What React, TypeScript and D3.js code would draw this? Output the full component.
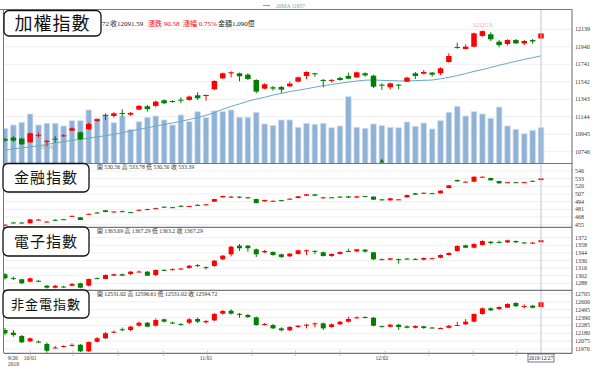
import React, { FC } from 'react';
import * as d3 from 'd3';

type OHLC = [number, number, number, number]; // open, high, low, close

// 加權指數 daily candles, 2019/09/26 .. 2019/12/27
const taiex: OHLC[] = [
  [10891, 10905, 10860, 10872], [10906, 10925, 10857, 10872], [10895, 10906, 10823, 10830],
  [10853, 10963, 10849, 10956], [10932, 10963, 10910, 10938], [10865, 10880, 10804, 10870],
  [10895, 10925, 10849, 10887], [10925, 10944, 10917, 10932], [10986, 11024, 10978, 11012],
  [10967, 10975, 10880, 10887], [11001, 11077, 10994, 11062], [11096, 11122, 11085, 11115],
  [11165, 11183, 11107, 11161], [11153, 11194, 11134, 11183], [11187, 11229, 11145, 11180],
  [11168, 11198, 11153, 11187], [11225, 11278, 11217, 11267], [11263, 11278, 11202, 11232],
  [11267, 11327, 11251, 11316], [11331, 11342, 11289, 11297], [11323, 11331, 11304, 11316],
  [11338, 11365, 11297, 11331], [11335, 11384, 11327, 11373], [11388, 11422, 11335, 11354],
  [11380, 11395, 11327, 11392], [11456, 11558, 11448, 11551], [11581, 11646, 11574, 11638],
  [11638, 11661, 11593, 11650], [11638, 11646, 11547, 11604], [11623, 11638, 11562, 11574],
  [11562, 11570, 11411, 11430], [11464, 11524, 11456, 11513], [11479, 11494, 11441, 11464],
  [11483, 11494, 11411, 11452], [11490, 11543, 11483, 11521], [11543, 11600, 11536, 11593],
  [11608, 11660, 11574, 11653], [11638, 11645, 11600, 11634], [11563, 11574, 11479, 11559],
  [11559, 11570, 11532, 11563], [11585, 11600, 11555, 11562], [11608, 11646, 11570, 11577],
  [11593, 11657, 11585, 11649], [11638, 11650, 11600, 11615], [11611, 11623, 11471, 11486],
  [11509, 11524, 11448, 11505], [11479, 11532, 11456, 11524], [11509, 11516, 11456, 11505],
  [11543, 11600, 11540, 11589], [11638, 11653, 11574, 11608], [11634, 11676, 11625, 11653],
  [11646, 11653, 11600, 11623], [11638, 11707, 11619, 11695], [11767, 11866, 11759, 11835],
  [11937, 11987, 11919, 11933], [11915, 11968, 11911, 11941], [11941, 12101, 11934, 12093],
  [12063, 12125.9, 12055, 12118], [12082, 12105, 12006, 12025], [11998, 12017, 11934, 11960],
  [11972, 12025, 11956, 12017], [12017, 12028, 11970, 11979], [11979, 12017, 11960, 12006],
  [12017, 12028, 11975, 12001.01], [12035.43, 12096.27, 12028.72, 12091.59],
];

const taiexMA20: number[] = [
  10765, 10778, 10790, 10800, 10814, 10828, 10845, 10860, 10875, 10888,
  10900, 10915, 10928, 10943, 10962, 10982, 11000, 11018, 11038, 11055,
  11073, 11092, 11112, 11135, 11160, 11190, 11230, 11262, 11290, 11320,
  11345, 11365, 11390, 11410, 11430, 11446, 11462, 11480, 11497, 11511,
  11525, 11538, 11550, 11560, 11562, 11558, 11555, 11552, 11552, 11555,
  11558, 11562, 11575, 11592, 11612, 11635, 11660, 11680, 11705, 11730,
  11752, 11775, 11797, 11815, 11837,
];

// 成交金額 (億)
const taiexAmount: number[] = [
  1072, 1172, 1255, 1507, 1172, 1224, 1224, 1142, 1303, 1303,
  1629, 1376, 1477, 1242, 1446, 1041, 1273, 1407, 1446, 1325,
  1172, 1477, 1273, 1577, 1395, 1599, 1577, 1629, 1407, 1407,
  1559, 1203, 1163, 1325, 1325, 1102, 1224, 1194, 1224, 1090,
  1142, 2034, 1102, 1072, 1203, 1151, 1102, 1090, 1264, 1133,
  1233, 1051, 1303, 1559, 1742, 1446, 1577, 1507, 1376, 1720,
  1142, 1041, 907, 1011, 1090,
];

const finance: OHLC[] = [
  [454.3, 455.6, 453.8, 455.0], [458.8, 459.8, 457.5, 458.2], [458.6, 459.5, 457.3, 458.0],
  [457.4, 464.6, 457.0, 464.1], [463.2, 464.6, 462.5, 463.7], [459.8, 461.0, 459.2, 460.3],
  [463.3, 464.5, 461.5, 462.8], [464.3, 464.8, 463.4, 463.9], [469.4, 470.6, 468.9, 470.0],
  [467.5, 468.0, 462.6, 463.0], [472.8, 474.0, 472.3, 473.4], [475.6, 476.8, 474.0, 475.1],
  [479.4, 480.0, 476.0, 476.5], [476.8, 477.8, 476.2, 477.3], [477.9, 479.0, 476.3, 477.4],
  [476.3, 476.8, 475.2, 475.8], [479.6, 480.8, 479.0, 480.2], [480.8, 482.0, 480.2, 481.4],
  [482.5, 483.6, 482.0, 483.1], [485.5, 486.0, 483.4, 483.8], [484.7, 485.2, 483.6, 484.2],
  [487.0, 488.2, 485.5, 486.5], [486.0, 487.2, 485.6, 486.6], [488.6, 489.8, 487.2, 488.2],
  [487.9, 490.0, 487.4, 489.5], [494.0, 499.0, 493.5, 498.5], [501.4, 504.1, 501.0, 503.6],
  [502.0, 503.2, 500.4, 502.6], [502.5, 503.0, 499.8, 501.0], [501.4, 501.9, 499.2, 499.7],
  [498.5, 499.0, 491.2, 491.7], [494.6, 497.4, 494.1, 496.9], [494.8, 496.0, 494.3, 495.5],
  [496.6, 497.1, 494.7, 495.2], [498.0, 499.6, 497.5, 499.1], [500.2, 503.5, 499.7, 503.0],
  [504.1, 506.9, 503.6, 506.4], [506.4, 506.9, 503.6, 504.1], [501.0, 502.0, 499.2, 501.4],
  [501.4, 501.9, 500.5, 501.0], [502.6, 503.1, 500.4, 500.9], [503.0, 503.5, 500.4, 500.9],
  [500.9, 503.5, 500.4, 503.0], [503.5, 504.0, 502.1, 502.6], [502.6, 503.1, 496.9, 497.4],
  [498.0, 498.5, 495.8, 497.7], [496.3, 500.2, 495.8, 499.7], [497.7, 498.5, 497.2, 498.0],
  [501.4, 505.8, 500.9, 505.3], [508.2, 508.7, 505.4, 505.9], [508.5, 509.6, 508.0, 509.1],
  [508.5, 509.0, 507.3, 507.8], [508.3, 513.2, 507.8, 512.7], [517.1, 522.2, 516.6, 521.7],
  [530.7, 531.5, 527.9, 528.4], [527.3, 528.4, 526.8, 527.9], [527.9, 536.8, 527.4, 536.3],
  [535.7, 536.8, 535.2, 536.3], [534.1, 534.6, 529.7, 530.2], [529.0, 529.5, 524.6, 525.1],
  [526.4, 527.5, 525.9, 527.0], [527.0, 527.5, 525.9, 526.4], [526.6, 527.6, 526.1, 527.1],
  [529.4, 530.0, 528.6, 529.0], [530.56, 533.78, 530.56, 533.39],
];

const electronics: OHLC[] = [
  [1304.6, 1307, 1295, 1297.2], [1297.6, 1300.5, 1294, 1296.8], [1295.4, 1296, 1286.7, 1288],
  [1291, 1298.7, 1289.5, 1297.2], [1292.6, 1294, 1290.4, 1292.2], [1283.6, 1285, 1278.4, 1279.9],
  [1279.9, 1285, 1278.8, 1283.6], [1282, 1283.5, 1280, 1281.5], [1283.6, 1288.5, 1282.5, 1286.7],
  [1288, 1289, 1278.8, 1279.9], [1283.6, 1296.8, 1282.2, 1295.9], [1297.4, 1298.7, 1295.9, 1296.9],
  [1296, 1304.6, 1295.5, 1303.3], [1302, 1306, 1301.5, 1304.6], [1304.6, 1306, 1301.5, 1302],
  [1305.2, 1310.7, 1303.3, 1309.4], [1309.1, 1311.6, 1308.8, 1309.6], [1309.4, 1310.7, 1301.5, 1302],
  [1303.3, 1313.8, 1301.3, 1312.5], [1312.7, 1313.8, 1310.7, 1312.2], [1313.5, 1315.2, 1312, 1314],
  [1314.6, 1316.2, 1313.4, 1315.1], [1316.2, 1321.7, 1315, 1320.4], [1321.5, 1323.3, 1318, 1321.1],
  [1317.8, 1319, 1313.2, 1317.4], [1319.9, 1330.9, 1318.6, 1329.6], [1332.2, 1340.1, 1330.9, 1338.9],
  [1341.4, 1356.7, 1337.5, 1355.4], [1357.3, 1360.4, 1347.5, 1352.5], [1357.3, 1358.6, 1346.2, 1352.5],
  [1350.6, 1352.1, 1336.4, 1341.4], [1345.1, 1349.3, 1343.8, 1347.5], [1345.7, 1346.6, 1338.8, 1340.1],
  [1341.4, 1342.6, 1334.6, 1336.5], [1337.7, 1343.8, 1336.4, 1342.6], [1342, 1349.9, 1340.8, 1348.8],
  [1348.5, 1350.2, 1340.1, 1348.8], [1347.8, 1348.8, 1341.6, 1347.3], [1345.1, 1346.3, 1337.4, 1338.3],
  [1338.3, 1343.1, 1336.8, 1342], [1342, 1346.6, 1341.1, 1345.7], [1347.5, 1351.7, 1345.7, 1347],
  [1347, 1351.2, 1345.2, 1350.6], [1350, 1351.2, 1344.5, 1346.4], [1345.1, 1345.7, 1330.9, 1332.2],
  [1332, 1333.7, 1330.9, 1332.4], [1331.5, 1334.6, 1330.3, 1334], [1332.6, 1333.7, 1324.2, 1332.2],
  [1333.5, 1334.6, 1331.9, 1333], [1333, 1334, 1330.9, 1332.5], [1331.5, 1335.5, 1330.3, 1334.6],
  [1333.8, 1335.2, 1332.8, 1334.2], [1335.2, 1341.1, 1334, 1340.1], [1340.1, 1345.1, 1339.2, 1343.8],
  [1347.5, 1358, 1346.2, 1356.7], [1358, 1359.1, 1352.5, 1353.6], [1353.6, 1361.8, 1352.5, 1360.4],
  [1358.6, 1367.2, 1357.7, 1365.9], [1364.6, 1365.9, 1359.7, 1362.2], [1364.3, 1366.8, 1361.3, 1364],
  [1363.5, 1368.3, 1362.2, 1367.2], [1366, 1366.8, 1362.2, 1363.5], [1363.2, 1364.1, 1361.3, 1362.8],
  [1362.3, 1363.6, 1360.4, 1362.9], [1363.69, 1367.29, 1363.2, 1367.29],
];

const nonFinElec: OHLC[] = [
  [12224, 12250, 12157, 12180], [12188, 12224, 12134, 12157], [12144, 12157, 12050, 12059],
  [12073, 12123, 12063, 12113], [12070, 12083, 12050, 12065], [12037, 12057, 11920, 11947],
  [11985, 12010, 11976, 11990], [12000, 12019, 11990, 12010], [12015, 12046, 12003, 12025],
  [12027, 12037, 11930, 11939], [11939, 12070, 11930, 12063], [12067, 12130, 12057, 12113],
  [12113, 12197, 12103, 12180], [12196, 12217, 12184, 12201], [12233, 12257, 12210, 12228],
  [12224, 12277, 12210, 12268], [12281, 12337, 12270, 12321], [12321, 12331, 12264, 12268],
  [12281, 12377, 12270, 12357], [12367, 12377, 12324, 12335], [12324, 12337, 12304, 12319],
  [12303, 12317, 12284, 12298], [12321, 12384, 12304, 12367], [12371, 12391, 12317, 12335],
  [12327, 12357, 12311, 12344], [12353, 12451, 12344, 12438], [12442, 12491, 12431, 12478],
  [12482, 12500, 12431, 12442], [12440, 12451, 12388, 12434], [12424, 12438, 12384, 12397],
  [12393, 12404, 12281, 12290], [12296, 12317, 12284, 12304], [12290, 12304, 12237, 12246],
  [12246, 12260, 12206, 12220], [12220, 12277, 12210, 12264], [12264, 12290, 12254, 12281],
  [12290, 12304, 12246, 12295], [12308, 12324, 12260, 12313], [12313, 12324, 12224, 12246],
  [12264, 12311, 12254, 12300], [12300, 12344, 12290, 12335], [12335, 12401, 12324, 12371],
  [12384, 12404, 12377, 12393], [12397, 12407, 12380, 12389], [12388, 12397, 12273, 12281],
  [12275, 12284, 12260, 12271], [12268, 12304, 12257, 12295], [12295, 12304, 12224, 12264],
  [12273, 12284, 12246, 12254], [12254, 12286, 12246, 12277], [12273, 12281, 12241, 12250],
  [12257, 12264, 12244, 12254], [12244, 12257, 12237, 12250], [12254, 12290, 12246, 12281],
  [12283, 12335, 12281, 12290], [12300, 12371, 12290, 12335], [12335, 12444, 12327, 12438],
  [12438, 12525, 12431, 12514], [12514, 12525, 12478, 12487], [12504, 12541, 12495, 12531],
  [12522, 12581, 12518, 12571], [12585, 12594, 12531, 12541], [12538, 12567, 12514, 12544],
  [12549, 12558, 12514, 12522], [12531.02, 12596.61, 12531.02, 12594.72],
];

const taiexTicks = [12139, 11940, 11741, 11542, 11343, 11144, 10945, 10746];
const financeTicks = [546, 533, 520, 507, 494, 481, 468, 455];
const electronicsTicks = [1372, 1358, 1344, 1330, 1316, 1302, 1288];
const nonFinElecTicks = [12705, 12600, 12495, 12390, 12285, 12180, 12075, 11970];

const dateLabels = ['9/26', '10/01', '11/01', '12/02'];
const dateLabelIdx = [0, 3, 24, 45];
const dateTickIdx = [3, 8.1, 13.5, 18.9, 24.2, 29.5, 34.7, 40, 45.4, 50.6, 55.9, 61.1];
const lastDate = '2019/12/27';

const UP = '#ff0000';
const DOWN = '#008000';
const W = 600;
const H = 367;
const plotLeft = 4;
const plotRight = 572;
const numFont = '"Liberation Serif", "Noto Sans CJK TC", serif';
const cjkFont = '"Noto Sans CJK TC", sans-serif';

const x = d3.scaleLinear().domain([0, taiex.length - 1]).range([5, 541]);

type Panel = { top: number; bottom: number; y: d3.ScaleLinear<number, number> };

const mainPanel: Panel = {
  top: 9.5, bottom: 163.5,
  y: d3.scaleLinear().domain([10746, 12139]).range([151.7, 29.3]),
};
const finPanel: Panel = {
  top: 163.5, bottom: 227.3,
  y: d3.scaleLinear().domain([455, 546]).range([224.7, 171]),
};
const elecPanel: Panel = {
  top: 227.3, bottom: 290.3,
  y: d3.scaleLinear().domain([1288, 1372]).range([283.3, 237.7]),
};
const nfePanel: Panel = {
  top: 290.3, bottom: 353.3,
  y: d3.scaleLinear().domain([11970, 12705]).range([349, 294]),
};

const volY = d3.scaleLinear().domain([0, 2100]).range([163.5, 94.5]);

const Candles: FC<{ data: OHLC[]; panel: Panel; bw: number }> = ({ data, panel, bw }) => (
  <g>
    {data.map(([o, h, l, c], i) => {
      const col = c >= o ? UP : DOWN;
      const cx = x(i);
      const yTop = panel.y(Math.max(o, c));
      const yBot = panel.y(Math.min(o, c));
      return (
        <g key={i}>
          <line x1={cx} x2={cx} y1={panel.y(h)} y2={panel.y(l)} stroke={col} strokeWidth={1} />
          <rect x={cx - bw / 2} y={yTop} width={bw} height={Math.max(1, yBot - yTop)} fill={col} />
        </g>
      );
    })}
  </g>
);

const Grid: FC<{ ticks: number[]; panel: Panel }> = ({ ticks, panel }) => (
  <g>
    {ticks.map((t) => (
      <g key={t}>
        <line x1={plotLeft} x2={plotRight} y1={panel.y(t)} y2={panel.y(t)} stroke="#efefef" />
        <text x={plotRight + 3} y={panel.y(t) + 2} fontSize={6} fill="#333" fontFamily={numFont}>
          {t}
        </text>
      </g>
    ))}
  </g>
);

const LabelBox: FC<{ x0: number; y0: number; w: number; h: number; text: string; size: number }> = ({
  x0, y0, w, h, text, size,
}) => (
  <g>
    <rect x={x0} y={y0} width={w} height={h} rx={5} fill="#fff" stroke="#111" strokeWidth={1.3} />
    <text
      x={x0 + w / 2}
      y={y0 + h / 2 + size * 0.36}
      textAnchor="middle"
      fontSize={size}
      fontFamily={cjkFont}
      fill="#111"
      letterSpacing={1}
    >
      {text}
    </text>
  </g>
);

const ohlcText = (d: OHLC) => `開 ${d[0]}  高 ${d[1]}  低 ${d[2]}  收 ${d[3]}`;

const App: FC = () => {
  const panels = [mainPanel, finPanel, elecPanel, nfePanel];
  const last = taiex[taiex.length - 1];
  const prevClose = taiex[taiex.length - 2][3];
  const chg = last[3] - prevClose;
  const amount = taiexAmount[taiexAmount.length - 1];
  const maLine = d3
    .line<number>()
    .x((_, i) => x(i))
    .y((v) => mainPanel.y(v));
  const hiIdx = d3.maxIndex(taiex, (d) => d[1]);
  const loIdx = d3.minIndex(taiex, (d) => d[2]);
  // only the tail of the low value peeks out from behind the label box
  const lowTail = last[2].toFixed(2).slice(-2);

  return (
    <svg width={W} height={H} style={{ position: 'absolute', left: 0, top: 0, background: '#fff' }}>
      <defs>
        {panels.map((p, k) => (
          <clipPath id={`clip${k}`} key={k}>
            <rect x={plotLeft} y={p.top} width={plotRight - plotLeft} height={p.bottom - p.top} />
          </clipPath>
        ))}
      </defs>
      <rect x={0} y={0} width={W} height={H} fill="#fff" />

      {/* grids + right axis labels */}
      <Grid ticks={taiexTicks} panel={mainPanel} />
      <Grid ticks={financeTicks} panel={finPanel} />
      <Grid ticks={electronicsTicks} panel={elecPanel} />
      <Grid ticks={nonFinElecTicks} panel={nfePanel} />

      {/* main panel: volume, MA, candles */}
      <g clipPath="url(#clip0)">
        {taiexAmount.map((v, i) => (
          <rect
            key={i}
            x={x(i) - 2.8}
            y={volY(v)}
            width={5.6}
            height={volY(0) - volY(v)}
            fill="#8fb2d6"
            stroke="#d3e0ee"
            strokeWidth={0.8}
          />
        ))}
        <path d={maLine(taiexMA20) || ''} fill="none" stroke="#6aa9bf" strokeWidth={1} />
        <Candles data={taiex} panel={mainPanel} bw={5.5} />
      </g>
      <text x={x(hiIdx)} y={27} textAnchor="middle" fontSize={6} fill="#f4a3a3" fontFamily={numFont}>
        {taiex[hiIdx][1]}
      </text>
      <text x={x(loIdx)} y={149} textAnchor="middle" fontSize={6} fill="#8fb0b8" fontFamily={numFont}>
        {taiex[loIdx][2].toFixed(1)}
      </text>
      <path d={`M${x(45) - 2.2},162.5 L${x(45)},158.5 L${x(45) + 2.2},162.5 Z`} fill={DOWN} />

      <g clipPath="url(#clip1)">
        <Candles data={finance} panel={finPanel} bw={5} />
      </g>
      <g clipPath="url(#clip2)">
        <Candles data={electronics} panel={elecPanel} bw={5} />
      </g>
      <g clipPath="url(#clip3)">
        <Candles data={nonFinElec} panel={nfePanel} bw={5} />
      </g>

      {/* crosshair at last day */}
      <line x1={x(taiex.length - 1)} x2={x(taiex.length - 1)} y1={9.5} y2={353.3} stroke="#b7c7d8" strokeWidth={1} />

      {/* panel frames */}
      <line x1={0} x2={plotRight} y1={9.5} y2={9.5} stroke="#777" />
      <line x1={plotLeft - 0.5} x2={plotLeft - 0.5} y1={9.5} y2={353.3} stroke="#777" />
      <line x1={plotRight} x2={plotRight} y1={9.5} y2={353.3} stroke="#666" />
      {panels.map((p, k) => (
        <line key={k} x1={plotLeft} x2={plotRight} y1={p.bottom} y2={p.bottom} stroke="#777" strokeWidth={1.2} />
      ))}

      {/* date axis */}
      {dateTickIdx.map((t) => (
        <line key={t} x1={x(t)} x2={x(t)} y1={350.5} y2={356} stroke="#aaa" strokeWidth={0.7} />
      ))}
      {dateLabels.map((lab, k) => (
        <text
          key={lab}
          x={k === 0 ? x(dateLabelIdx[k]) + 3 : x(dateLabelIdx[k])}
          y={359.5}
          textAnchor={k === 0 ? 'start' : 'middle'}
          fontSize={5.5}
          fill="#333"
          fontFamily={numFont}
        >
          {lab}
        </text>
      ))}
      <text x={x(0) + 3} y={366} fontSize={5.5} fill="#333" fontFamily={numFont}>
        2019
      </text>
      <rect x={x(taiex.length - 1) - 13} y={354} width={26} height={8} fill="#fff" stroke="#555" strokeWidth={0.8} />
      <text x={x(taiex.length - 1)} y={360.3} textAnchor="middle" fontSize={5.3} fill="#222" fontFamily={numFont}>
        {lastDate}
      </text>

      {/* legend */}
      <line x1={263} x2={270} y1={5.5} y2={5.5} stroke="#6aa9bf" strokeWidth={1} />
      <text x={276} y={7.5} fontSize={5.5} fill="#6aa9bf" fontFamily={numFont}>
        {`20MA ${taiexMA20[taiexMA20.length - 1]}`}
      </text>

      {/* label boxes */}
      <LabelBox x0={4} y0={10.5} w={97} h={25.5} text="加權指數" size={18} />
      <LabelBox x0={3} y0={163.5} w={86} h={28.5} text="金融指數" size={15} />
      <LabelBox x0={3} y0={227} w={86} h={29} text="電子指數" size={15} />
      <LabelBox x0={3} y0={290} w={86} h={28} text="非金電指數" size={13} />

      {/* main header */}
      <text x={102} y={26} fontSize={7} fill="#222" fontFamily={numFont}>
        {lowTail}
      </text>
      <text x={110} y={26} fontSize={7} fill="#222" fontFamily={numFont}>
        {`收${last[3]}`}
      </text>
      <text x={148} y={26} fontSize={7} fill={UP} fontFamily={numFont}>
        {`漲跌 ${chg.toFixed(2)}`}
      </text>
      <text x={183} y={26} fontSize={7} fill={UP} fontFamily={numFont}>
        {`漲幅 ${((chg / prevClose) * 100).toFixed(2)}%`}
      </text>
      <text x={218} y={26} fontSize={7} fill="#222" fontFamily={numFont}>
        {`金額${d3.format(',')(amount)}億`}
      </text>

      {/* sub panel headers */}
      <text x={97} y={169} fontSize={5.8} fill="#333" fontFamily={numFont}>
        {ohlcText(finance[finance.length - 1])}
      </text>
      <text x={97} y={232.5} fontSize={5.8} fill="#333" fontFamily={numFont}>
        {ohlcText(electronics[electronics.length - 1])}
      </text>
      <text x={97} y={296} fontSize={5.8} fill="#333" fontFamily={numFont}>
        {ohlcText(nonFinElec[nonFinElec.length - 1])}
      </text>
    </svg>
  );
};

export default App;
